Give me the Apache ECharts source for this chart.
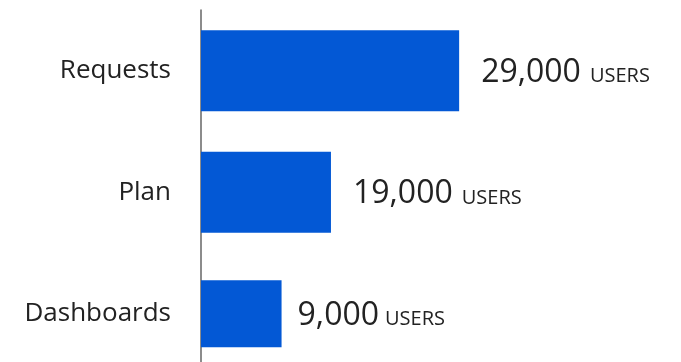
<!DOCTYPE html>
<html>
<head>
<meta charset="utf-8">
<script src="https://cdn.jsdelivr.net/npm/echarts@6/dist/echarts.min.js"></script>
<style>
html,body{margin:0;padding:0;background:#fff;}
#chart{width:681px;height:362px;}
</style>
</head>
<body>
<div id="chart"></div>
<script>
// Categories (top to bottom)
const categories = ['Requests', 'Plan', 'Dashboards'];
// Values printed in the labels
const userCounts = [29000, 19000, 9000];
// Bar lengths as drawn in the picture (the graphic is not drawn to scale)
const barLengths = [29000, 14600, 9050];
const unitLabel = 'USERS';

const chart = echarts.init(document.getElementById('chart'), null, {renderer: 'canvas'});

const fmt = n => n.toLocaleString('en-US');
const FONT = '"Open Sans", sans-serif';
const BLUE = '#0358d5';
const TEXT = '#222222';

function makeLabel(distance, gap) {
  return {
    show: true,
    position: 'right',
    distance: distance,
    formatter: p => '{v|' + fmt(userCounts[p.dataIndex]) + '}{u|' + unitLabel + '}',
    rich: {
      v: {fontFamily: FONT, fontSize: 32, color: TEXT, lineHeight: 36, verticalAlign: 'bottom'},
      u: {fontFamily: FONT, fontSize: 20, color: TEXT, lineHeight: 36, verticalAlign: 'bottom', padding: [0, 0, 2, gap]}
    }
  };
}

// Main bars (first two categories) and a narrower last bar on an overlapping hidden axis
const mainData = barLengths.map((v, i) => i < 2 ? v : null);
const lastData = barLengths.map((v, i) => i === 2 ? v : null);

chart.setOption({
  animation: false,
  backgroundColor: '#ffffff',
  grid: {left: 201, top: 10, width: 470, height: 364.5, containLabel: false, outerBoundsMode: 'none'},
  xAxis: {
    type: 'value', min: 0, max: 52800, show: false,
    splitLine: {show: false}
  },
  yAxis: [
    {
      type: 'category', inverse: true, data: categories,
      axisLine: {show: true, lineStyle: {color: '#666666', width: 1.5}},
      axisTick: {show: false},
      axisLabel: {fontFamily: FONT, fontSize: 26, color: TEXT, margin: 30, padding: [3, 0, 0, 0]}
    },
    {
      type: 'category', inverse: true, data: categories, show: false,
      position: 'left'
    }
  ],
  series: [
    {
      type: 'bar', yAxisIndex: 0, data: mainData, barWidth: 81,
      itemStyle: {color: BLUE}, label: makeLabel(22, 9)
    },
    {
      type: 'bar', yAxisIndex: 1, data: lastData, barWidth: 67,
      itemStyle: {color: BLUE}, label: makeLabel(16, 6)
    }
  ]
});
</script>
</body>
</html>
